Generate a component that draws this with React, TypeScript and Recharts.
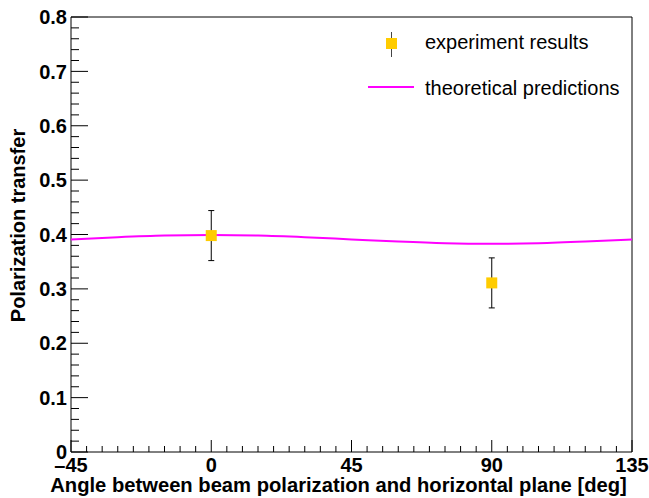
import React from "react";
import {
  ComposedChart,
  Line,
  Scatter,
  ErrorBar,
  XAxis,
  YAxis,
  ReferenceArea,
} from "recharts";

// ---- data ----
const expAngles = [0, 90];
const expValues = [0.398, 0.311];
const expErrors = [0.046, 0.046];

const theoryAngles = [-45, -30, -15, 0, 15, 30, 45, 60, 75, 90, 105, 120, 135];
const theoryValues = [0.391, 0.395, 0.398, 0.399, 0.398, 0.395, 0.391, 0.387, 0.384, 0.383, 0.384, 0.387, 0.391];

const xMajorTicks = [-45, 0, 45, 90, 135];
const xMajorLabels = ["\u201345", "0", "45", "90", "135"];
const yMajorTicks = [0, 0.1, 0.2, 0.3, 0.4, 0.5, 0.6, 0.7, 0.8];
const yMajorLabels = ["0", "0.1", "0.2", "0.3", "0.4", "0.5", "0.6", "0.7", "0.8"];

const legendLabels = ["experiment results", "theoretical predictions"];
const xTitle = "Angle between beam polarization and horizontal plane [deg]";
const yTitle = "Polarization transfer";

// ---- derived tables ----
const expData = expAngles.map((x, i) => ({ x, y: expValues[i], err: expErrors[i] }));
const theoryData = theoryAngles.map((x, i) => ({ x, y: theoryValues[i] }));

// minor ticks: every 5 deg on x, every 0.02 on y
const xAllTicks: number[] = [];
for (let v = -45; v <= 135; v += 5) xAllTicks.push(v);
const yAllTicks: number[] = [];
for (let i = 0; i <= 40; i++) yAllTicks.push(Math.round(i * 2) / 100);

const FONT = '"Liberation Sans", Arial, Helvetica, sans-serif';

const W = 649;
const H = 498;
const M = { top: 17, right: 17, left: 0, bottom: 0 };
const YW = 71;
const XH = 46;

const XTick = (props: any) => {
  const { x, y, payload } = props;
  const v = payload.value;
  const idx = xMajorTicks.indexOf(v);
  const major = idx >= 0;
  return (
    <g>
      <line x1={x} x2={x} y1={y} y2={y - (major ? 12 : 6)} stroke="#000" strokeWidth={1} />
      {major && (
        <text x={x} y={y + 20} textAnchor="middle" fontFamily={FONT} fontWeight="bold" fontSize={20} fill="#000">
          {xMajorLabels[idx]}
        </text>
      )}
    </g>
  );
};

const YTick = (props: any) => {
  const { x, y, payload } = props;
  const v = payload.value;
  const idx = yMajorTicks.findIndex((t) => Math.abs(t - v) < 1e-6);
  const major = idx >= 0;
  return (
    <g>
      <line x1={x} x2={x + (major ? 17 : 8)} y1={y} y2={y} stroke="#000" strokeWidth={1} />
      {major && (
        <text x={x - 4} y={y} dy="0.36em" textAnchor="end" fontFamily={FONT} fontWeight="bold" fontSize={20} fill="#000">
          {yMajorLabels[idx]}
        </text>
      )}
    </g>
  );
};

const SquareShape = (props: any) => {
  const { cx, cy } = props;
  return <rect x={cx - 5.5} y={cy - 5.5} width={11} height={11} fill="#ffcc00" />;
};

export default function App() {
  return (
    <div style={{ position: "absolute", left: 0, top: 0, width: W, height: H, overflow: "hidden" }}>
      <ComposedChart width={W} height={H} margin={M} style={{ fontFamily: FONT }}>
        <XAxis
          dataKey="x"
          type="number"
          domain={[-45, 135]}
          ticks={xAllTicks}
          interval={0}
          allowDataOverflow
          tickSize={0}
          tickMargin={0}
          axisLine={false}
          tickLine={false}
          height={XH}
          tick={<XTick />}
        />
        <YAxis
          type="number"
          domain={[0, 0.8]}
          ticks={yAllTicks}
          interval={0}
          allowDataOverflow
          tickSize={0}
          tickMargin={0}
          axisLine={false}
          tickLine={false}
          width={YW}
          tick={<YTick />}
        />
        <ReferenceArea x1={-45} x2={135} y1={0} y2={0.8} fill="none" stroke="#000" strokeWidth={1} ifOverflow="visible" />
        <Line
          data={theoryData}
          dataKey="y"
          type="monotone"
          stroke="#ff00ff"
          strokeWidth={2}
          dot={false}
          activeDot={false}
          isAnimationActive={false}
        />
        <Scatter data={expData} dataKey="y" shape={<SquareShape />} isAnimationActive={false}>
          <ErrorBar dataKey="err" direction="y" width={3} stroke="#000" strokeWidth={1} />
        </Scatter>
      </ComposedChart>
      <svg
        width={W}
        height={H}
        style={{ position: "absolute", left: 0, top: 0, pointerEvents: "none" }}
      >
        {/* legend */}
        <line x1={391.5} x2={391.5} y1={32} y2={57} stroke="#444" strokeWidth={1} />
        <rect x={386} y={38} width={11} height={11} fill="#ffcc00" />
        <text x={425} y={48.5} fontFamily={FONT} fontSize={20} fill="#000">
          {legendLabels[0]}
        </text>
        <line x1={368} x2={414} y1={87} y2={87} stroke="#ff00ff" strokeWidth={2} />
        <text x={425} y={94.5} fontFamily={FONT} fontSize={20} fill="#000">
          {legendLabels[1]}
        </text>
        {/* axis titles */}
        <text x={338.5} y={492} textAnchor="middle" fontFamily={FONT} fontWeight="bold" fontSize={20.2} fill="#000">
          {xTitle}
        </text>
        <text
          transform="translate(25,225.5) rotate(-90)"
          textAnchor="middle"
          fontFamily={FONT}
          fontWeight="bold"
          fontSize={20}
          fill="#000"
        >
          {yTitle}
        </text>
      </svg>
    </div>
  );
}
